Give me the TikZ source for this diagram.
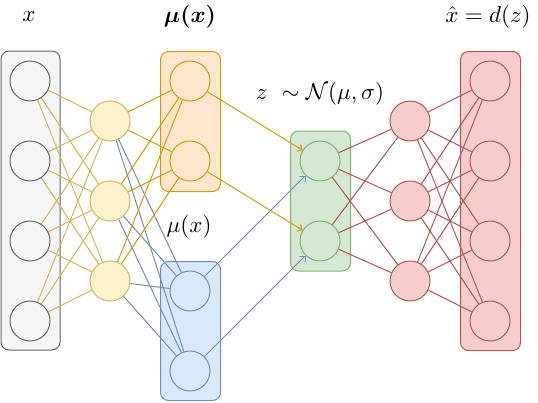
\documentclass[tikz,border=0pt]{standalone}
\usepackage{amsmath}
\usepackage{bm}
\usetikzlibrary{arrows.meta}
\definecolor{grayF}{HTML}{F5F5F5}\definecolor{grayS}{HTML}{666666}
\definecolor{yelF}{HTML}{FFF2CC}\definecolor{yelS}{HTML}{D6B656}
\definecolor{orF}{HTML}{FFE6CC}\definecolor{orS}{HTML}{D79B00}
\definecolor{blF}{HTML}{DAE8FC}\definecolor{blS}{HTML}{6C8EBF}
\definecolor{grF}{HTML}{D5E8D4}\definecolor{grS}{HTML}{82B366}
\definecolor{rdF}{HTML}{F8CECC}\definecolor{rdS}{HTML}{B85450}
\tikzset{
  neuron/.style={circle, draw, line width=1pt, minimum size=40pt, inner sep=0pt},
  layerbox/.style={rectangle, draw, line width=1pt, rounded corners=8pt, inner sep=0pt},
  lbl/.style={inner sep=0pt, scale=2.3},
  conn/.style={line width=1pt},
  arr/.style={line width=1pt, -{Straight Barb[length=4pt,width=8pt]}},
}
\begin{document}
\begin{tikzpicture}[x=1pt,y=-1pt]
\useasboundingbox (0,0) rectangle (538,402);
% boxes
\node[layerbox, fill=grayF, draw=grayS, minimum width=59pt, minimum height=299pt] (bx) at (30.5,200.5) {};
\node[layerbox, fill=orF, draw=orS, minimum width=60pt, minimum height=140pt] (bo) at (190.5,121.5) {};
\node[layerbox, fill=blF, draw=blS, minimum width=60pt, minimum height=139pt] (bb) at (190.5,331) {};
\node[layerbox, fill=grF, draw=grS, minimum width=60pt, minimum height=140pt] (bg) at (320.5,201) {};
\node[layerbox, fill=rdF, draw=rdS, minimum width=60pt, minimum height=299pt] (bq) at (490.5,201) {};
% neurons
\foreach \i/\y in {1/81,2/161,3/241,4/321} {
  \node[neuron, fill=grayF, draw=grayS] (g\i) at (30,\y) {};
  \node[neuron, fill=rdF, draw=rdS] (q\i) at (490,\y) {};
}
\foreach \i/\y in {1/121,2/201,3/281} {
  \node[neuron, fill=yelF, draw=yelS] (y\i) at (110,\y) {};
  \node[neuron, fill=rdF, draw=rdS] (r\i) at (410,\y) {};
}
\node[neuron, fill=orF, draw=orS] (o1) at (190,81) {};
\node[neuron, fill=orF, draw=orS] (o2) at (190,161) {};
\node[neuron, fill=blF, draw=blS] (b1) at (190,291) {};
\node[neuron, fill=blF, draw=blS] (b2) at (190,371) {};
\node[neuron, fill=grF, draw=grS] (n1) at (320,161) {};
\node[neuron, fill=grF, draw=grS] (n2) at (320,241) {};
% connections
\foreach \i in {1,2,3,4} \foreach \j in {1,2,3} \draw[conn, yelS] (g\i) -- (y\j);
\foreach \i in {1,2,3} \foreach \j in {1,2} {
  \draw[conn, orS] (y\i) -- (o\j);
  \draw[conn, blS] (y\i) -- (b\j);
}
\draw[arr, orS] (o1) -- (n1);
\draw[arr, orS] (o2) -- (n2);
\draw[arr, blS] (b1) -- (n1);
\draw[arr, blS] (b2) -- (n2);
\foreach \i in {1,2} \foreach \j in {1,2,3} \draw[conn, rdS] (n\i) -- (r\j);
\foreach \i in {1,2,3} \foreach \j in {1,2,3,4} \draw[conn, rdS] (r\i) -- (q\j);
% labels
\node[lbl] (lx) at (29,17) {$x$};
\node[lbl] (lmu) at (190,17) {$\bm{\mu(x)}$};
\node[lbl] (lmu2) at (189,227) {$\mu(x)$};
\node[lbl] (lz) at (320,94) {$z\ \sim\mathcal{N}(\mu,\sigma)$};
\node[lbl] (lxh) at (488,17) {$\hat{x}=d(z)$};
\end{tikzpicture}
\end{document}
